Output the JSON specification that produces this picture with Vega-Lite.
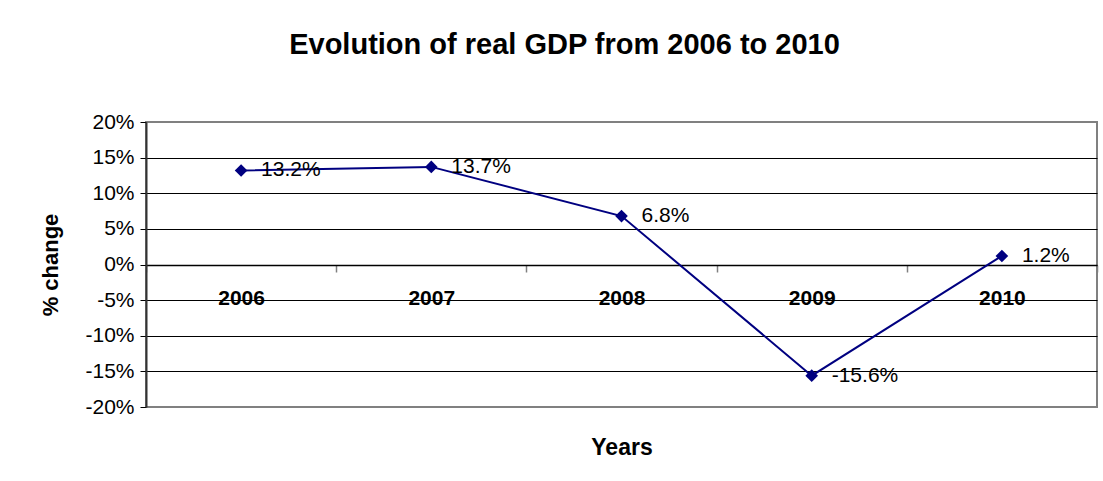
{
  "$schema": "https://vega.github.io/schema/vega-lite/v6.json",
  "width": 951,
  "height": 285,
  "autosize": "none",
  "padding": {"left": 146, "top": 122, "right": 6, "bottom": 74},
  "background": "white",
  "config": {
    "view": {"stroke": "#808080", "strokeWidth": 2},
    "font": "Liberation Sans"
  },
  "title": {
    "text": "Evolution of real GDP from 2006 to 2010",
    "fontSize": 29,
    "fontWeight": "bold",
    "font": "Liberation Sans",
    "color": "black",
    "anchor": "middle",
    "frame": "group",
    "dx": -57,
    "baseline": "alphabetic",
    "offset": 28
  },
  "data": {
    "values": [
      {"year": "2006", "change": 0.132, "label": "13.2%"},
      {"year": "2007", "change": 0.137, "label": "13.7%"},
      {"year": "2008", "change": 0.068, "label": "6.8%"},
      {"year": "2009", "change": -0.156, "label": "-15.6%"},
      {"year": "2010", "change": 0.012, "label": "1.2%"}
    ]
  },
  "encoding": {
    "x": {
      "field": "year",
      "type": "ordinal",
      "scale": {"type": "band", "paddingInner": 0, "paddingOuter": 0},
      "axis": {
        "orient": "bottom",
        "offset": -142,
        "tickBand": "extent",
        "labelAngle": 0,
        "labelFont": "Liberation Sans",
        "labelFontSize": 21,
        "labelFontWeight": "bold",
        "labelColor": "black",
        "labelPadding": 15,
        "tickSize": 7,
        "tickColor": "#808080",
        "tickWidth": 1.5,
        "domainColor": "black",
        "domainWidth": 1.5,
        "grid": false,
        "title": "Years",
        "titleFont": "Liberation Sans",
        "titleFontSize": 23,
        "titleFontWeight": "bold",
        "titleColor": "black",
        "titleY": 182,
        "titleBaseline": "middle"
      }
    },
    "y": {
      "field": "change",
      "type": "quantitative",
      "scale": {"domain": [-0.2, 0.2], "nice": false},
      "axis": {
        "values": [-0.2, -0.15, -0.1, -0.05, 0, 0.05, 0.1, 0.15, 0.2],
        "format": ".0%",
        "labelExpr": "replace(datum.label, '\u2212', '-')",
        "labelFont": "Liberation Sans",
        "labelFontSize": 21,
        "labelColor": "black",
        "labelPadding": 6,
        "tickSize": 6,
        "tickColor": "black",
        "domainColor": "#333333",
        "domainWidth": 2,
        "grid": true,
        "gridColor": {"condition": {"test": "abs(datum.value) > 0.19", "value": "#808080"}, "value": "black"},
        "gridOpacity": 1,
        "gridWidth": 1,
        "title": "% change",
        "titleFont": "Liberation Sans",
        "titleFontSize": 22,
        "titleFontWeight": "bold",
        "titleColor": "black",
        "titleX": -96,
        "titleY": 142.5,
        "titleAngle": -90,
        "titleAlign": "center",
        "titleBaseline": "middle"
      }
    }
  },
  "layer": [
    {"mark": {"type": "line", "color": "#000080", "strokeWidth": 2}},
    {"mark": {"type": "point", "shape": "diamond", "filled": true, "size": 160, "color": "#000080", "opacity": 1}},
    {
      "mark": {"type": "text", "align": "left", "baseline": "middle", "dx": 20, "fontSize": 21, "font": "Liberation Sans", "color": "black"},
      "encoding": {"text": {"field": "label"}}
    }
  ]
}
